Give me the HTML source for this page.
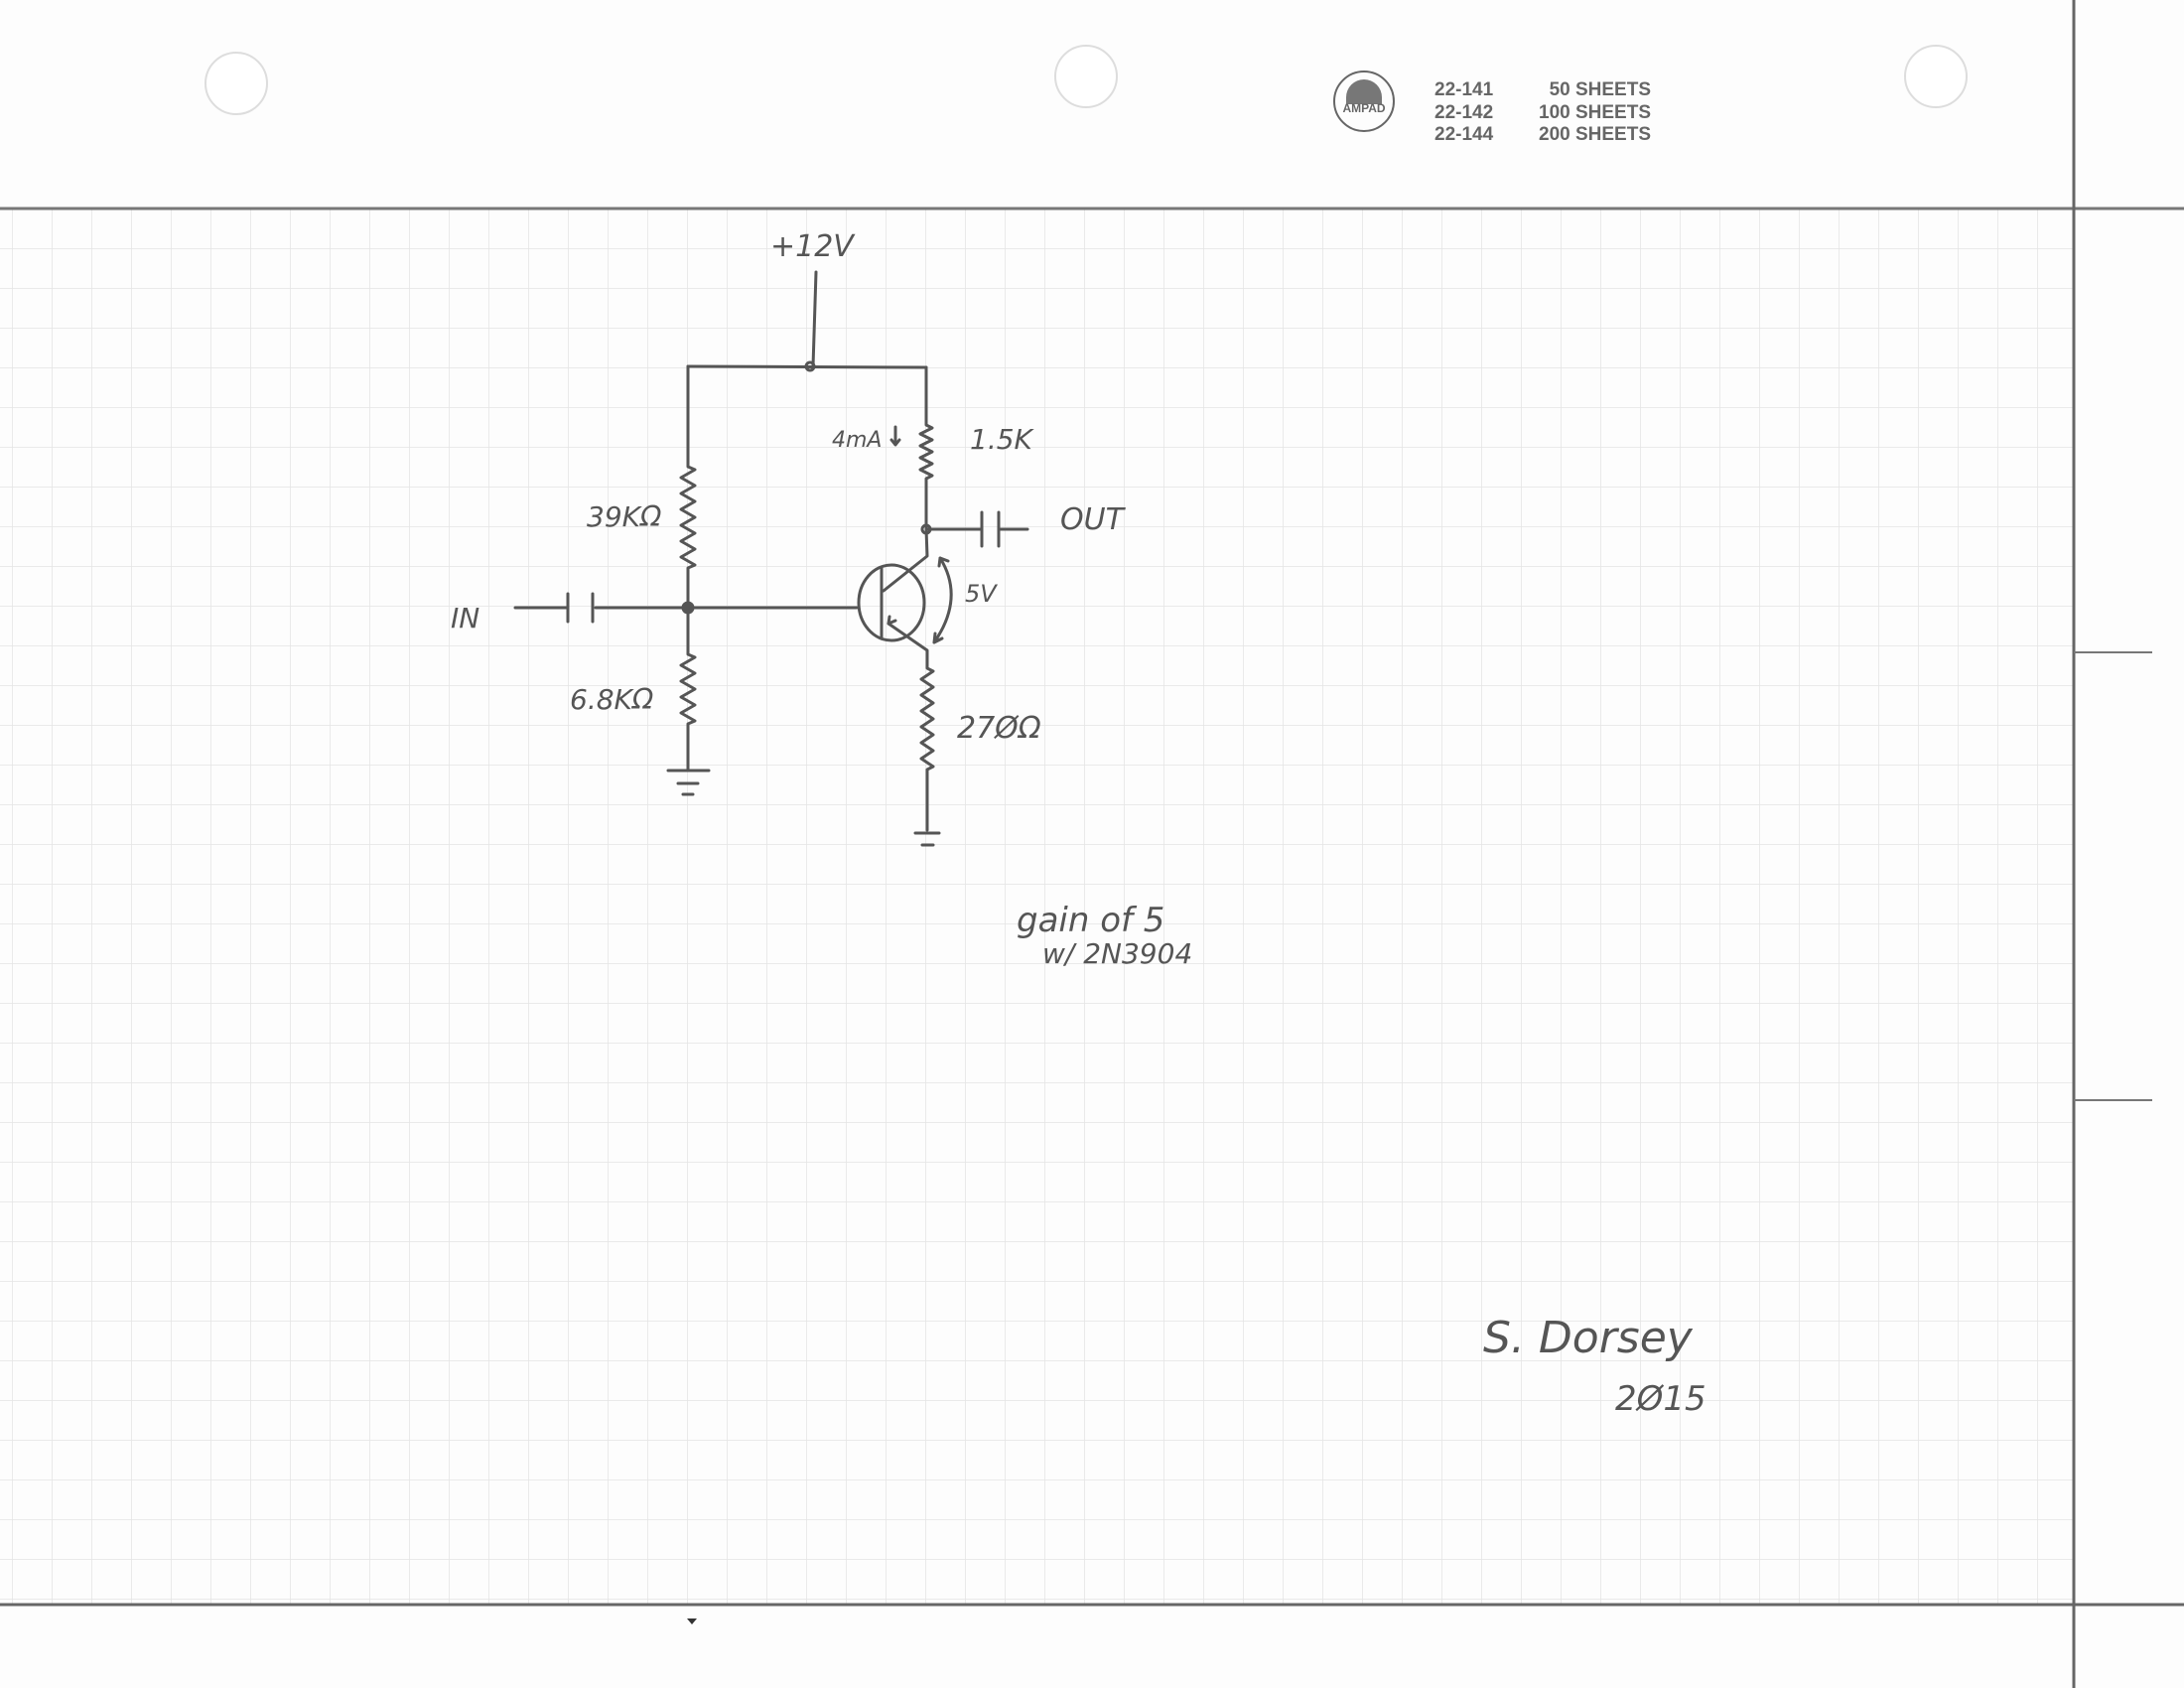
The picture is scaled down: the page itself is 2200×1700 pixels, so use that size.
<!DOCTYPE html>
<html><head><meta charset="utf-8"><style>
html,body{margin:0;padding:0;background:#fdfdfd}
svg{display:block}
.h{font-family:"DejaVu Sans","Liberation Sans",sans-serif;fill:#555;font-style:italic}
</style></head><body>
<svg width="2200" height="1700" viewBox="0 0 2200 1700" xmlns="http://www.w3.org/2000/svg">
<defs>
<pattern id="g" x="92" y="210" width="40" height="40" patternUnits="userSpaceOnUse">
<path d="M0 0H40M0 0V40" stroke="#e4e4e4" stroke-width="1.5" fill="none"/>
</pattern>
</defs>
<rect width="2200" height="1700" fill="#fdfdfd"/>
<rect x="0" y="210" width="2089" height="1406" fill="url(#g)"/>
<line x1="0" y1="210" x2="2200" y2="210" stroke="#777" stroke-width="3"/>
<line x1="0" y1="1616" x2="2200" y2="1616" stroke="#666" stroke-width="3"/>
<line x1="2089" y1="0" x2="2089" y2="1700" stroke="#666" stroke-width="3"/>
<line x1="2089" y1="657" x2="2168" y2="657" stroke="#777" stroke-width="2"/>
<line x1="2089" y1="1108" x2="2168" y2="1108" stroke="#777" stroke-width="2"/>
<circle cx="238" cy="84" r="31" fill="#fff" stroke="#ddd" stroke-width="2"/>
<circle cx="1094" cy="77" r="31" fill="#fff" stroke="#ddd" stroke-width="2"/>
<circle cx="1950" cy="77" r="31" fill="#fff" stroke="#ddd" stroke-width="2"/>
<circle cx="1374" cy="102" r="30" fill="none" stroke="#666" stroke-width="2"/>
<path d="M1356 98 A18 18 0 0 1 1392 98 L1392 105 L1356 105Z" fill="#777"/>
<text x="1374" y="113" font-family="Liberation Sans,sans-serif" font-weight="bold" font-size="12" fill="#666" text-anchor="middle">AMPAD</text>
<g font-family="'Liberation Sans Narrow','Liberation Sans',sans-serif" font-weight="bold" font-size="19" fill="#666">
<text x="1445" y="96">22-141</text><text x="1663" y="96" text-anchor="end">50 SHEETS</text>
<text x="1445" y="119">22-142</text><text x="1663" y="119" text-anchor="end">100 SHEETS</text>
<text x="1445" y="141">22-144</text><text x="1663" y="141" text-anchor="end">200 SHEETS</text>
</g>
<g stroke="#555" stroke-width="3" fill="none" stroke-linecap="round" stroke-linejoin="round">
<path d="M822 274 L819 369"/>
<path d="M693 369 L933 370"/>
<circle cx="816" cy="369" r="4"/>
<path d="M693 369 L693 470 l7 3 -14 8 14 8 -14 8 14 8 -14 8 14 8 -14 8 14 8 -14 8 14 8 -14 8 14 8 -7 3 L693 612"/>
<circle cx="693" cy="612" r="5" fill="#555"/>
<path d="M693 612 L693 659 l7 3 -14 8 14 8 -14 8 14 8 -14 8 14 8 -14 8 14 8 -7 3 L693 776"/>
<path d="M673 776 H714 M683 789 H703 M688 800 H698"/>
<path d="M933 370 L933 428 l6 3 -12 6 12 6 -12 6 12 6 -12 6 12 6 -12 6 12 6 -6 3 L933 533"/>
<circle cx="933" cy="533" r="4"/>
<path d="M933 533 H988 M989 516 V550 M1006 516 V550 M1008 533 H1035"/>
<path d="M933 533 L934 560 L890 595"/>
<ellipse cx="898" cy="607" rx="33" ry="38"/>
<path d="M888 572 V642"/>
<path d="M895 628 L934 655 L934 673 l6 3 -12 8 12 8 -12 8 12 8 -12 8 12 8 -12 8 12 8 -12 8 12 8 -12 8 12 8 -6 3 L934 836"/>
<path d="M895 628 l7 -3 M895 628 l1 -7"/>
<path d="M922 839 H946 M929 851 H940"/>
<path d="M863 612 H693"/>
<path d="M519 612 H571 M572 598 V626 M597 598 V626 M600 612 H693"/>
<path d="M947 562 Q972 602 941 647 M941 647 l1 -9 M941 647 l8 -4 M947 562 l8 3 M947 562 l-1 8"/>
<path d="M902 430 V448 l-4 -5 M902 448 l4 -5"/>
</g>
<text class="h" x="776" y="258" font-size="30">+12V</text>
<text class="h" x="591" y="530" font-size="28">39KΩ</text>
<text class="h" x="574" y="714" font-size="28">6.8KΩ</text>
<text class="h" x="838" y="450" font-size="22">4mA</text>
<text class="h" x="977" y="452" font-size="28">1.5K</text>
<text class="h" x="964" y="743" font-size="30">27ØΩ</text>
<text class="h" x="972" y="606" font-size="24">5V</text>
<text class="h" x="1068" y="533" font-size="30">OUT</text>
<text class="h" x="454" y="632" font-size="28">IN</text>
<text class="h" x="1024" y="938" font-size="34">gain of 5</text>
<text class="h" x="1050" y="970" font-size="28">w/ 2N3904</text>
<text class="h" x="1494" y="1362" font-size="44">S. Dorsey</text>
<text class="h" x="1627" y="1420" font-size="34">2Ø15</text>
<path d="M692 1630 l10 0 -5 6z" fill="#333"/>
</svg>
</body></html>
